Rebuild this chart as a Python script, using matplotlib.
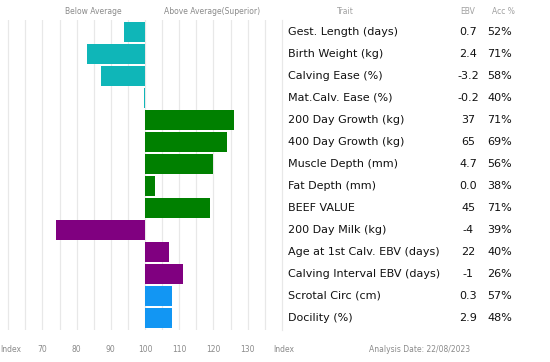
import numpy as np
import matplotlib
matplotlib.use("Agg")
import matplotlib.pyplot as plt

# trait data
traits = ["Gest. Length (days)", "Birth Weight (kg)", "Calving Ease (%)",
          "Mat.Calv. Ease (%)", "200 Day Growth (kg)", "400 Day Growth (kg)",
          "Muscle Depth (mm)", "Fat Depth (mm)", "BEEF VALUE", "200 Day Milk (kg)",
          "Age at 1st Calv. EBV (days)", "Calving Interval EBV (days)",
          "Scrotal Circ (cm)", "Docility (%)"]
ebv = ["0.7", "2.4", "-3.2", "-0.2", "37", "65", "4.7", "0.0", "45", "-4",
       "22", "-1", "0.3", "2.9"]
acc = ["52%", "71%", "58%", "40%", "71%", "69%", "56%", "38%", "71%", "39%",
       "40%", "26%", "57%", "48%"]
index_vals = [94, 83, 87, 99.7, 126, 124, 120, 103, 119, 74, 107, 111, 108, 108]
groups = ["calving"] * 4 + ["growth"] * 5 + ["maternal"] * 3 + ["fertility"] * 2
ticks = [70, 80, 90, 100, 110, 120, 130]

colours = {"calving": "#0fb6b8", "growth": "#008000",
           "maternal": "#800080", "fertility": "#1296f3"}

W, H = 550, 362
fig = plt.figure(figsize=(W / 100, H / 100), dpi=100)

def px(x, y):
    return x / W, 1 - y / H

# bar panel
ax = fig.add_axes([0, (H - 330) / H, 282 / W, 310 / H])
n = len(traits)
rows = np.arange(n)
lefts = [min(v, 100) for v in index_vals]
widths = [abs(v - 100) for v in index_vals]
ax.barh(rows, widths, left=lefts, height=0.91,
        color=[colours[g] for g in groups], zorder=3)
for g in range(60, 140, 5):
    ax.axvline(g, color="#e8e8e8", lw=0.9, zorder=1)
ax.set_xlim(100 - 145 / 3.42, 100 + 137 / 3.42)
ax.set_ylim(n - 0.455, -0.545)
ax.axis("off")

# headers
grey = "#8a8a8a"
fig.text(*px(93, 12), "Below Average", fontsize=5.5, color=grey, ha="center", va="center")
fig.text(*px(212, 12), "Above Average(Superior)", fontsize=5.5, color=grey, ha="center", va="center")
fig.text(*px(345, 12), "Trait", fontsize=5.5, color="#a0a0a0", ha="center", va="center")
fig.text(*px(468, 12), "EBV", fontsize=5.5, color="#a0a0a0", ha="center", va="center")
fig.text(*px(503, 12), "Acc %", fontsize=5.5, color="#a0a0a0", ha="center", va="center")

# table border
fig.add_artist(plt.Line2D([282 / W, 282 / W], [1 - 20 / H, 1 - 330 / H],
                          color="#e8e8e8", lw=0.9))

# table rows
for i in range(n):
    y = 32 + 22 * i
    fig.text(*px(288, y), traits[i], fontsize=8, color="#111111", ha="left", va="center")
    fig.text(*px(468, y), ebv[i], fontsize=8, color="#111111", ha="center", va="center")
    fig.text(*px(487, y), acc[i], fontsize=8, color="#111111", ha="left", va="center")

# bottom axis labels
fig.text(*px(0.5, 349), "Index", fontsize=5.5, color=grey, ha="left", va="center")
for t in ticks:
    xp = 145 + (t - 100) * 3.42
    fig.text(*px(xp, 349), str(t), fontsize=5.5, color=grey, ha="center", va="center")
fig.text(*px(284, 349), "Index", fontsize=5.5, color=grey, ha="center", va="center")
fig.text(*px(420, 349), "Analysis Date: 22/08/2023", fontsize=5.5, color=grey,
         ha="center", va="center")

fig.savefig("out.png", dpi=100)
